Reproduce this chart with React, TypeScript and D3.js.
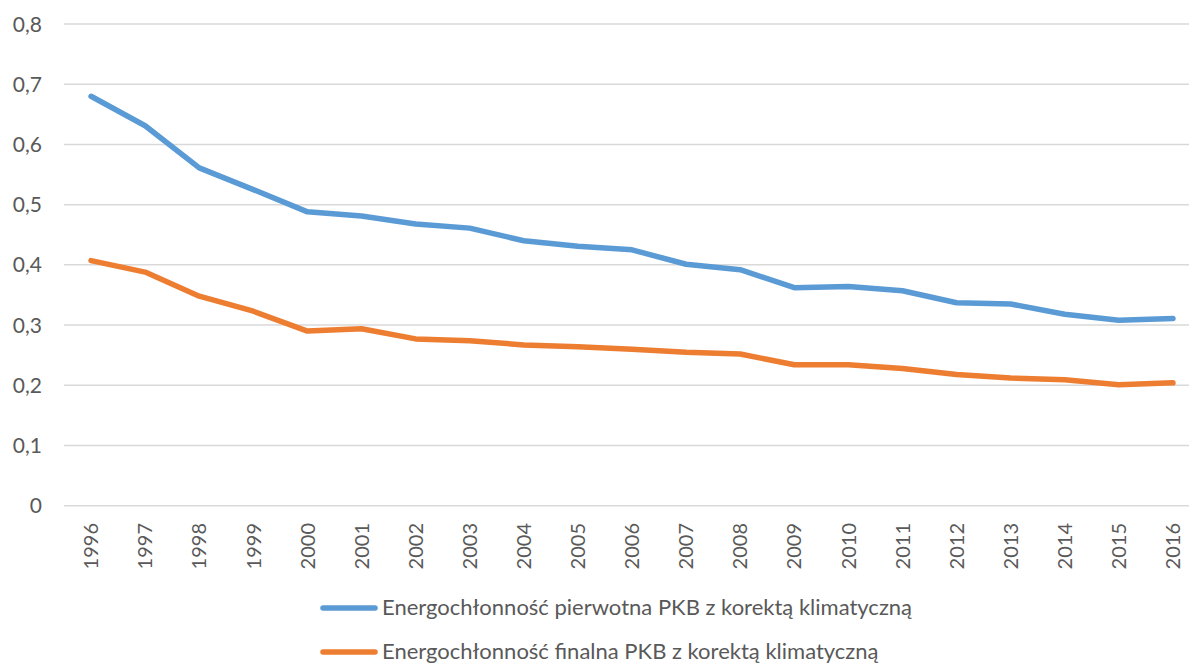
import React, { useEffect, useRef } from "react";
import * as d3 from "d3";

const years = [
  "1996", "1997", "1998", "1999", "2000", "2001", "2002", "2003", "2004", "2005", "2006",
  "2007", "2008", "2009", "2010", "2011", "2012", "2013", "2014", "2015", "2016",
];
const pierwotna = [
  0.68, 0.631, 0.561, 0.525, 0.488, 0.481, 0.468, 0.461, 0.44, 0.431, 0.425,
  0.401, 0.392, 0.362, 0.364, 0.357, 0.337, 0.335, 0.318, 0.308, 0.311,
];
const finalna = [
  0.407, 0.388, 0.348, 0.323, 0.29, 0.294, 0.277, 0.274, 0.267, 0.264, 0.26,
  0.255, 0.252, 0.234, 0.234, 0.228, 0.218, 0.212, 0.209, 0.201, 0.204,
];
const yTicks = [0, 0.1, 0.2, 0.3, 0.4, 0.5, 0.6, 0.7, 0.8];
const seriesNames = [
  "Energochłonność pierwotna PKB z korektą klimatyczną",
  "Energochłonność finalna PKB z korektą klimatyczną",
];
const colors = ["#5b9bd5", "#ed7d31"];

export default function App() {
  const ref = useRef<SVGSVGElement | null>(null);

  useEffect(() => {
    const width = 1189;
    const height = 666;
    const font = "Lato, 'Open Sans', sans-serif";
    const svg = d3.select(ref.current);
    svg.selectAll("*").remove();

    const x = d3.scaleBand().domain(years).range([64, 1200]);
    const y = d3.scaleLinear().domain([0, 0.8]).range([505.7, 24]);

    // gridlines
    svg
      .append("g")
      .selectAll("line")
      .data(yTicks)
      .enter()
      .append("line")
      .attr("x1", 64)
      .attr("x2", width)
      .attr("y1", (d) => y(d))
      .attr("y2", (d) => y(d))
      .attr("stroke", "#d9d9d9")
      .attr("stroke-width", 1.5);

    // y labels
    svg
      .append("g")
      .selectAll("text")
      .data(yTicks)
      .enter()
      .append("text")
      .attr("x", 42)
      .attr("y", (d) => y(d))
      .attr("dy", "0.36em")
      .attr("text-anchor", "end")
      .attr("font-family", font)
      .attr("font-size", 21)
      .attr("fill", "#595959")
      .text((d) => (d === 0 ? "0" : d.toFixed(1).replace(".", ",")));

    // x labels
    svg
      .append("g")
      .selectAll("text")
      .data(years)
      .enter()
      .append("text")
      .attr("transform", (d) => `translate(${x(d)! + x.bandwidth() / 2},523) rotate(-90)`)
      .attr("dy", "0.36em")
      .attr("text-anchor", "end")
      .attr("font-family", font)
      .attr("font-size", 20)
      .attr("fill", "#595959")
      .text((d) => d);

    const line = d3
      .line<number>()
      .x((_, i) => x(years[i])! + x.bandwidth() / 2)
      .y((d) => y(d));

    [pierwotna, finalna].forEach((s, i) => {
      svg
        .append("path")
        .datum(s)
        .attr("d", line)
        .attr("fill", "none")
        .attr("stroke", colors[i])
        .attr("stroke-width", 5.5)
        .attr("stroke-linecap", "round")
        .attr("stroke-linejoin", "round");
    });

    // legend
    const legendY = [608, 652];
    seriesNames.forEach((name, i) => {
      svg
        .append("line")
        .attr("x1", 323)
        .attr("x2", 375)
        .attr("y1", legendY[i])
        .attr("y2", legendY[i])
        .attr("stroke", colors[i])
        .attr("stroke-width", 5.5)
        .attr("stroke-linecap", "round");
      svg
        .append("text")
        .attr("x", 382)
        .attr("y", legendY[i])
        .attr("dy", "0.34em")
        .attr("font-family", font)
        .attr("font-size", 22)
        .attr("fill", "#595959")
        .text(name);
    });

    svg.attr("width", width).attr("height", height);
  }, []);

  return (
    <svg
      ref={ref}
      width={1189}
      height={666}
      style={{ position: "absolute", left: 0, top: 0, background: "#fff" }}
    />
  );
}
